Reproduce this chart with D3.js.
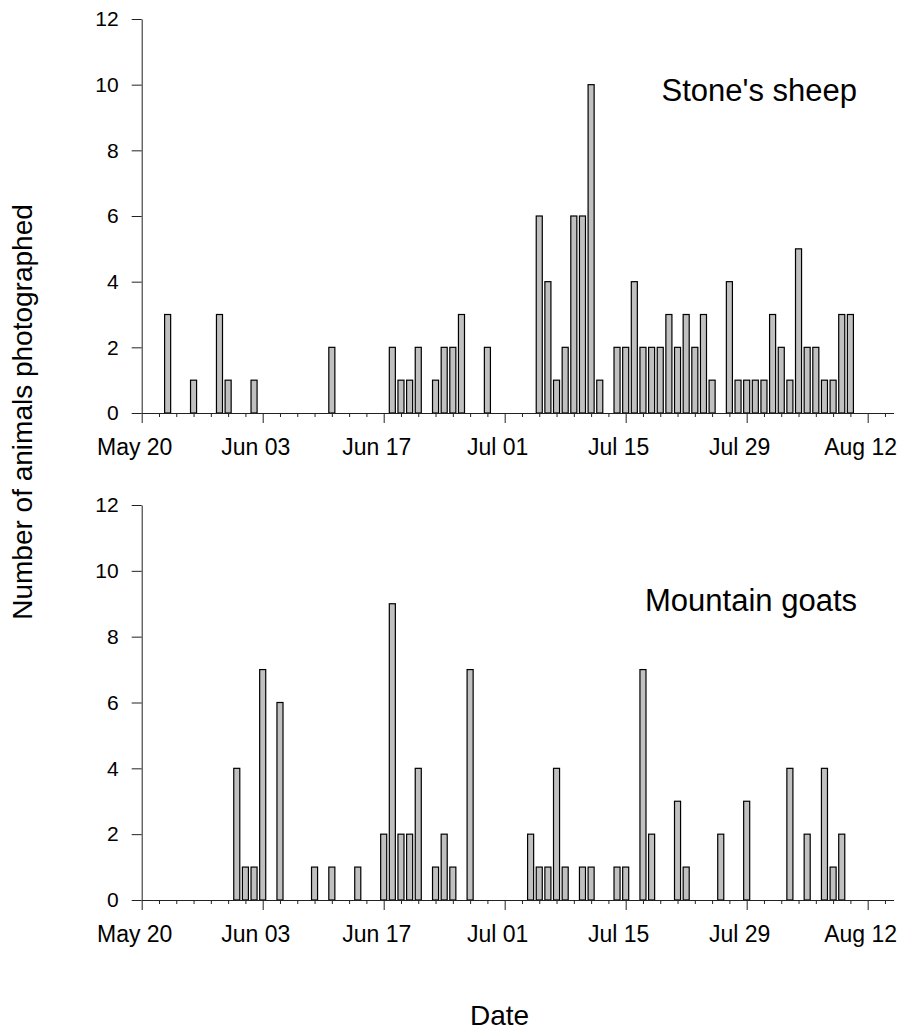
<!DOCTYPE html>
<html><head>
<meta charset="utf-8">
<title>Animals photographed by date</title>
<script src="https://d3js.org/d3.v7.min.js"></script>
<style>
  body { margin: 0; background: white; }
  svg text { font-family: "Liberation Sans", Arial, sans-serif; fill: #000; }
</style>
</head>
<body>
<svg width="903" height="1034"></svg>
<script>

// data (month-day, count)
let sheepDates = ["05-23","05-26","05-29","05-30","06-02","06-11","06-18","06-19","06-20","06-21",
  "06-23","06-24","06-25","06-26","06-29","07-05","07-06","07-07","07-08","07-09","07-10","07-11",
  "07-12","07-14","07-15","07-16","07-17","07-18","07-19","07-20","07-21","07-22","07-23","07-24",
  "07-25","07-27","07-28","07-29","07-30","07-31","08-01","08-02","08-03","08-04","08-05","08-06",
  "08-07","08-08","08-09","08-10"];
let sheepCounts = [3,1,3,1,1,2,2,1,1,2,
  1,2,2,3,2,6,4,1,2,6,6,10,
  1,2,2,4,2,2,2,3,2,3,2,3,
  1,4,1,1,1,1,3,2,1,5,2,2,
  1,1,3,3];

let goatDates = ["05-31","06-01","06-02","06-03","06-05","06-09","06-11","06-14","06-17","06-18",
  "06-19","06-20","06-21","06-23","06-24","06-25","06-27","07-04","07-05","07-06","07-07","07-08",
  "07-10","07-11","07-14","07-15","07-17","07-18","07-21","07-22","07-26","07-29","08-03","08-05",
  "08-07","08-08","08-09"];
let goatCounts = [4,1,1,7,6,1,1,1,2,9,
  2,2,4,1,2,1,7,2,1,1,4,1,
  1,1,1,1,7,2,3,1,2,3,4,2,
  4,1,2];

let yTicks = [0, 2, 4, 6, 8, 10, 12];
let panelTitles = ["Stone's sheep", "Mountain goats"];

let parse = s => new Date(Date.UTC(2000, +s.slice(0, 2) - 1, +s.slice(3)));
let start = parse("05-20"), end = parse("08-15");

let svg = d3.select("svg");

let x = d3.scaleUtc().domain([start, end]).range([141.7, 893.6]);
let dayW = x(d3.utcDay.offset(start, 1)) - x(start);
let barW = dayW * 0.7;

let majorTicks = d3.utcDay.range(start, end, 14);
let minorTicks = d3.utcDay.range(start, end, 2).filter(d => d3.utcDay.count(start, d) % 14 != 0);

let panels = [
  { dates: sheepDates, counts: sheepCounts, bottom: 413, top: 19, titleY: 101 },
  { dates: goatDates, counts: goatCounts, bottom: 900, top: 505, titleY: 611 }
];

panels.forEach(function(p, i) {
  let y = d3.scaleLinear().domain([0, 12]).range([p.bottom, p.top]);
  let g = svg.append("g");

  // bars
  let data = p.dates.map((d, k) => ({ date: parse(d), n: p.counts[k] }));
  g.selectAll("rect").data(data).join("rect")
      .attr("x", d => x(d.date) - barW / 2)
      .attr("y", d => y(d.n))
      .attr("width", barW)
      .attr("height", d => y(0) - y(d.n))
      .style("fill", "#c0c0c0")
      .style("stroke", "#000")
      .style("stroke-width", 1.2);

  // y axis
  let ya = g.append("g").attr("transform", "translate(141.7,0)")
      .call(d3.axisLeft(y).tickValues(yTicks).tickSize(10).tickSizeOuter(0).tickPadding(13));
  ya.selectAll("text").style("font-size", "21px");

  // x axis: minor ticks every 2 days, labelled ticks every 14
  let xa = g.append("g").attr("transform", "translate(0," + p.bottom + ")");
  xa.call(d3.axisBottom(x).tickValues(minorTicks).tickSize(4).tickSizeOuter(0).tickFormat(""));
  xa.append("g")
      .call(d3.axisBottom(x).tickValues(majorTicks).tickSize(10).tickSizeOuter(0)
        .tickFormat(d3.utcFormat("%b %d")).tickPadding(16))
      .call(a => a.select(".domain").remove());
  xa.selectAll("text").style("font-size", "23px").attr("dx", -7.5);

  svg.selectAll(".domain, .tick line").style("stroke", "#222");

  g.append("text")
      .attr("x", 857).attr("y", p.titleY)
      .attr("text-anchor", "end")
      .style("font-size", "31px")
      .text(panelTitles[i]);
});

svg.append("text")
    .attr("transform", "translate(32,412) rotate(-90)")
    .attr("text-anchor", "middle")
    .style("font-size", "28px")
    .text("Number of animals photographed");

svg.append("text")
    .attr("x", 470).attr("y", 1025)
    .style("font-size", "28px")
    .text("Date");

</script>
</body>
</html>
